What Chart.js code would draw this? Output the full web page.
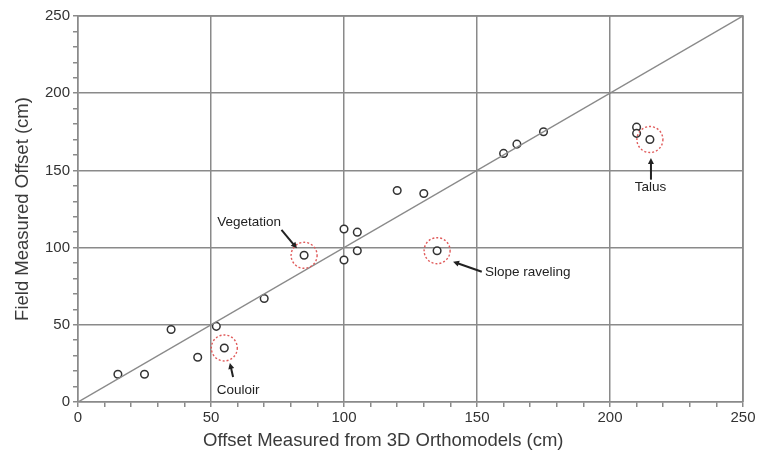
<!DOCTYPE html>
<html>
<head>
<meta charset="utf-8">
<script src="https://cdn.jsdelivr.net/npm/chart.js@4"></script>
<style>
  body { margin: 0; background: #fff; }
  #wrap { width: 763px; height: 462px; }
</style>
</head>
<body>
<div id="wrap"><canvas id="graph"></canvas></div>
<script>
// valeurs (cm)
const modelOffset = [15, 25, 35, 45, 52, 55, 70, 85, 100, 105, 105, 100, 135, 120, 130, 160, 165, 175, 210, 210, 215];
const fieldOffset = [18, 18, 47, 29, 49, 35, 67, 95, 112, 110, 98, 92, 98, 137, 135, 161, 167, 175, 178, 174, 170];

// points entourés en rouge
const highlightX = [55, 85, 135, 215];
const highlightY = [35, 95, 98, 170];

// annotations : texte, position du texte, flèche (départ -> arrivée)
const noteText = ['Couloir', 'Vegetation', 'Slope raveling', 'Talus'];
const noteX = [60.2, 64.3, 153, 215.2];
const noteY = [7.3, 116.2, 83.7, 139];
const noteAlign = ['center', 'center', 'left', 'center'];
const arrowFrom = [[58.3, 16.2], [76.5, 111.5], [151.8, 84.4], [215.4, 144]];
const arrowTo = [[57.1, 25.3], [82.3, 99.5], [141, 90.9], [215.4, 158]];

const axisMin = 0;
const axisMax = 250;
const xTitle = 'Offset Measured from 3D Orthomodels (cm)';

const points = modelOffset.map((x, i) => ({ x: x, y: fieldOffset[i] }));

// cadre + cercles rouges + flèches + titre de l'axe x
const extras = {
  id: 'extras',
  afterDatasetsDraw(chart) {
    const ctx = chart.ctx;
    const a = chart.chartArea;
    const sx = chart.scales.x, sy = chart.scales.y;
    ctx.save();
    ctx.strokeStyle = '#8a8a8a';
    ctx.lineWidth = 1.5;
    ctx.beginPath();
    ctx.moveTo(a.left, a.top); ctx.lineTo(a.right, a.top); ctx.lineTo(a.right, a.bottom);
    ctx.stroke();

    ctx.strokeStyle = '#e05a5a';
    ctx.lineWidth = 1.4;
    ctx.setLineDash([2, 2]);
    highlightX.forEach((hx, i) => {
      ctx.beginPath();
      ctx.arc(sx.getPixelForValue(hx), sy.getPixelForValue(highlightY[i]), 13, 0, Math.PI * 2);
      ctx.stroke();
    });
    ctx.setLineDash([]);

    ctx.fillStyle = '#222';
    ctx.strokeStyle = '#222';
    ctx.lineWidth = 2;
    ctx.font = '13.5px "Liberation Sans", Arial, sans-serif';
    ctx.textBaseline = 'middle';
    noteText.forEach((t, i) => {
      ctx.textAlign = noteAlign[i];
      ctx.fillText(t, sx.getPixelForValue(noteX[i]), sy.getPixelForValue(noteY[i]));
      const x1 = sx.getPixelForValue(arrowFrom[i][0]), y1 = sy.getPixelForValue(arrowFrom[i][1]);
      const x2 = sx.getPixelForValue(arrowTo[i][0]), y2 = sy.getPixelForValue(arrowTo[i][1]);
      const ang = Math.atan2(y2 - y1, x2 - x1);
      ctx.beginPath();
      ctx.moveTo(x1, y1);
      ctx.lineTo(x2 - 4 * Math.cos(ang), y2 - 4 * Math.sin(ang));
      ctx.stroke();
      ctx.beginPath();
      ctx.moveTo(x2, y2);
      ctx.lineTo(x2 - 6 * Math.cos(ang) + 3 * Math.sin(ang), y2 - 6 * Math.sin(ang) - 3 * Math.cos(ang));
      ctx.lineTo(x2 - 6 * Math.cos(ang) - 3 * Math.sin(ang), y2 - 6 * Math.sin(ang) + 3 * Math.cos(ang));
      ctx.closePath();
      ctx.fill();
    });

    // titre de l'axe x, un peu décalé à gauche comme sur la figure
    ctx.fillStyle = '#3a3a3a';
    ctx.font = '18.5px "Liberation Sans", Arial, sans-serif';
    ctx.textAlign = 'left';
    ctx.fillText(xTitle, a.left + 125, a.bottom + 39);
    ctx.restore();
  }
};

const gridColor = c => (c.tick && c.tick.value % 50 === 0) ? '#8a8a8a' : 'rgba(0,0,0,0)';
const tickFont = { family: '"Liberation Sans", Arial, sans-serif', size: 15 };
const titleFont = { family: '"Liberation Sans", Arial, sans-serif', size: 18.5 };

new Chart(document.getElementById('graph'), {
  type: 'scatter',
  data: {
    datasets: [
      {
        type: 'line',
        data: [{ x: axisMin, y: axisMin }, { x: axisMax, y: axisMax }],
        borderColor: '#8a8a8a',
        borderWidth: 1.5,
        pointRadius: 0,
        fill: false
      },
      {
        data: points,
        pointRadius: 3.8,
        pointBorderWidth: 1.5,
        pointBorderColor: '#333',
        pointBackgroundColor: '#fff'
      }
    ]
  },
  options: {
    responsive: true,
    maintainAspectRatio: false,
    animation: false,
    layout: { padding: { top: 16, right: 20, left: 0, bottom: 0 } },
    plugins: { legend: { display: false }, tooltip: { enabled: false } },
    scales: {
      x: {
        type: 'linear',
        min: axisMin, max: axisMax,
        afterFit: s => { s.height = 60; },
        ticks: {
          stepSize: 10, autoSkip: false, maxRotation: 0, color: '#333', font: tickFont, padding: 2,
          callback: v => v % 50 === 0 ? v : ''
        },
        grid: { color: gridColor, lineWidth: 1.5, tickColor: '#8a8a8a', tickLength: 5 },
        border: { color: '#8a8a8a', width: 1.5 },
        title: { display: false }
      },
      y: {
        type: 'linear',
        min: axisMin, max: axisMax,
        afterFit: s => { s.width = 78; },
        ticks: {
          stepSize: 10, autoSkip: false, color: '#333', font: tickFont, padding: 3,
          callback: v => v % 50 === 0 ? v : ''
        },
        grid: { color: gridColor, lineWidth: 1.5, tickColor: '#8a8a8a', tickLength: 5 },
        border: { color: '#8a8a8a', width: 1.5 },
        title: { display: true, text: 'Field Measured Offset (cm)', color: '#3a3a3a', font: titleFont, padding: { top: 12, bottom: 2 } }
      }
    }
  },
  plugins: [extras]
});
</script>
</body>
</html>
